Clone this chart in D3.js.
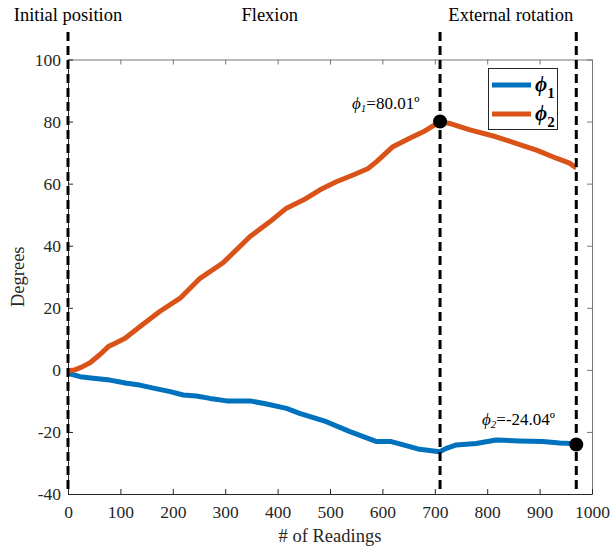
<!DOCTYPE html>
<html>
<head>
<meta charset="utf-8">
<script src="https://cdn.jsdelivr.net/npm/d3@7"></script>
<style>
  html, body { margin: 0; padding: 0; background: #fff; }
  svg, svg text, svg tspan { font-family: "Liberation Serif", serif !important; }
</style>
</head>
<body>
<svg id="chart" width="610" height="548"></svg>
<script>
// ---- data ----
const readings1 = [0, 23, 48, 80, 112, 137, 163, 195, 220, 245, 271, 303, 347, 379, 417, 442, 493, 538, 589, 617, 640, 671, 709, 722, 741, 779, 817, 862, 906, 938, 970];
const phi1 = [-1.1, -2.2, -2.7, -3.3, -4.3, -4.9, -5.9, -7.0, -8.1, -8.4, -9.2, -10.0, -10.0, -11.0, -12.4, -14.0, -16.7, -19.9, -23.1, -23.1, -24.2, -25.6, -26.4, -25.3, -24.2, -23.7, -22.6, -22.9, -23.1, -23.6, -23.8];
const readings2 = [0, 13, 25, 42, 60, 77, 95, 109, 137, 175, 214, 252, 296, 347, 385, 417, 449, 481, 512, 544, 573, 589, 620, 652, 678, 710, 728, 767, 817, 855, 894, 932, 957, 970];
const phi2 = [-0.3, 0, 0.8, 2.3, 4.8, 7.5, 9.0, 10.2, 13.9, 18.8, 23.1, 29.5, 34.5, 42.9, 47.7, 52.1, 54.7, 58.0, 60.6, 62.8, 64.9, 67.1, 71.9, 74.6, 76.7, 80.01, 79.4, 77.3, 75.1, 73.0, 70.8, 68.2, 66.6, 65.1];
const seriesNames = ["1", "2"];
const phaseBounds = [0, 710, 970];
const phaseLabels = ["Initial position", "Flexion", "External rotation"];
const phaseLabelAt = [0, 385, 845];
const markerReadings = [710, 970];
const markerValues = [80.01, -24.04];
const markerTexts = [["1", "=80.01º"], ["2", "=-24.04º"]];
const xTicks = [0, 100, 200, 300, 400, 500, 600, 700, 800, 900, 1000];
const yTicks = [-40, -20, 0, 20, 40, 60, 80, 100];
const colors = ["#0072BD", "#D95319"];
const PHI = "\u03D5";

// ---- layout ----
const FONT = "Liberation Serif";
const svg = d3.select("#chart");
const L = 68, R = 592, T = 59.5, B = 494;
const x = d3.scaleLinear().domain([0, 1000]).range([L, R]);
const y = d3.scaleLinear().domain([-40, 100]).range([B, T]);
const fmt = d => String(d);

// top & right box axes (lighter)
svg.append("g").attr("transform", `translate(0,${T})`)
  .call(d3.axisTop(x).tickValues(xTicks).tickSize(-5).tickSizeOuter(0).tickFormat(""))
  .call(g => g.selectAll("path,line").attr("stroke", "#777").attr("stroke-width", 1));
svg.append("g").attr("transform", `translate(${R},0)`)
  .call(d3.axisRight(y).tickValues(yTicks).tickSize(-5).tickSizeOuter(0).tickFormat(""))
  .call(g => g.selectAll("path,line").attr("stroke", "#777").attr("stroke-width", 1));

// bottom & left axes
const gx = svg.append("g").attr("transform", `translate(0,${B})`)
  .call(d3.axisBottom(x).tickValues(xTicks).tickSize(-5).tickSizeOuter(0).tickPadding(12).tickFormat(fmt))
  .attr("font-family", FONT).attr("font-size", 17.5);
gx.selectAll("path,line").attr("stroke", "#262626").attr("stroke-width", 1);
gx.selectAll("text").attr("fill", "#262626");

const gy = svg.append("g").attr("transform", `translate(${L},0)`)
  .call(d3.axisLeft(y).tickValues(yTicks).tickSize(-5).tickSizeOuter(0).tickPadding(7).tickFormat(fmt))
  .attr("font-family", FONT).attr("font-size", 17.5);
gy.selectAll("path,line").attr("stroke", "#262626").attr("stroke-width", 1);
gy.selectAll("text").attr("fill", "#262626");

// axis titles
svg.append("text").attr("x", (L + R) / 2).attr("y", 542).attr("text-anchor", "middle")
  .attr("font-family", FONT).attr("font-size", 18.5).attr("fill", "#262626").text("# of Readings");
svg.append("text").attr("transform", `translate(24,${(T + B) / 2}) rotate(-90)`).attr("text-anchor", "middle")
  .attr("font-family", FONT).attr("font-size", 18.5).attr("fill", "#262626").text("Degrees");

// lines
const line = d3.line().x(d => x(d[0])).y(d => y(d[1]));
const s1 = readings1.map((r, i) => [r, phi1[i]]);
const s2 = readings2.map((r, i) => [r, phi2[i]]);
[s1, s2].forEach((s, i) => {
  svg.append("path").datum(s).attr("d", line).attr("fill", "none")
    .attr("stroke", colors[i]).attr("stroke-width", 5).attr("stroke-linejoin", "round").attr("stroke-linecap", "butt");
});

// phase dashed lines
phaseBounds.forEach(b => {
  svg.append("line").attr("x1", x(b)).attr("x2", x(b)).attr("y1", 32).attr("y2", B)
    .attr("stroke", "#000").attr("stroke-width", 3).attr("stroke-dasharray", "9,5");
});

// phase labels
phaseLabels.forEach((t, i) => {
  svg.append("text").attr("x", x(phaseLabelAt[i])).attr("y", 21).attr("text-anchor", "middle")
    .attr("font-family", FONT).attr("font-size", 18.5).attr("fill", "#000").text(t);
});

// markers
markerReadings.forEach((r, i) => {
  svg.append("circle").attr("cx", x(r)).attr("cy", y(markerValues[i])).attr("r", 7).attr("fill", "#000");
});

// marker annotations
const annPos = [[352, 109], [482, 425]];
markerTexts.forEach((mt, i) => {
  const t = svg.append("text").attr("x", annPos[i][0]).attr("y", annPos[i][1])
    .attr("font-family", FONT).attr("font-size", 17).attr("fill", "#000");
  t.append("tspan").attr("font-style", "italic").text(PHI);
  t.append("tspan").attr("font-style", "italic").attr("font-size", 11).attr("dy", 3).text(mt[0]);
  t.append("tspan").attr("dy", -3).text(mt[1]);
});

// legend
const lg = svg.append("g");
lg.append("rect").attr("x", 488.5).attr("y", 68.5).attr("width", 69).attr("height", 61)
  .attr("fill", "#fff").attr("stroke", "#262626").attr("stroke-width", 1);
const legY = [85, 114];
seriesNames.forEach((n, i) => {
  lg.append("line").attr("x1", 492).attr("x2", 531).attr("y1", legY[i]).attr("y2", legY[i])
    .attr("stroke", colors[i]).attr("stroke-width", 5);
  const t = lg.append("text").attr("x", 535).attr("y", legY[i] + 6)
    .attr("font-family", FONT).attr("font-size", 21).attr("font-weight", "bold").attr("fill", "#000");
  t.append("tspan").attr("font-style", "italic").text(PHI);
  t.append("tspan").attr("font-size", 15).attr("dy", 7).text(n);
});
</script>
</body>
</html>
